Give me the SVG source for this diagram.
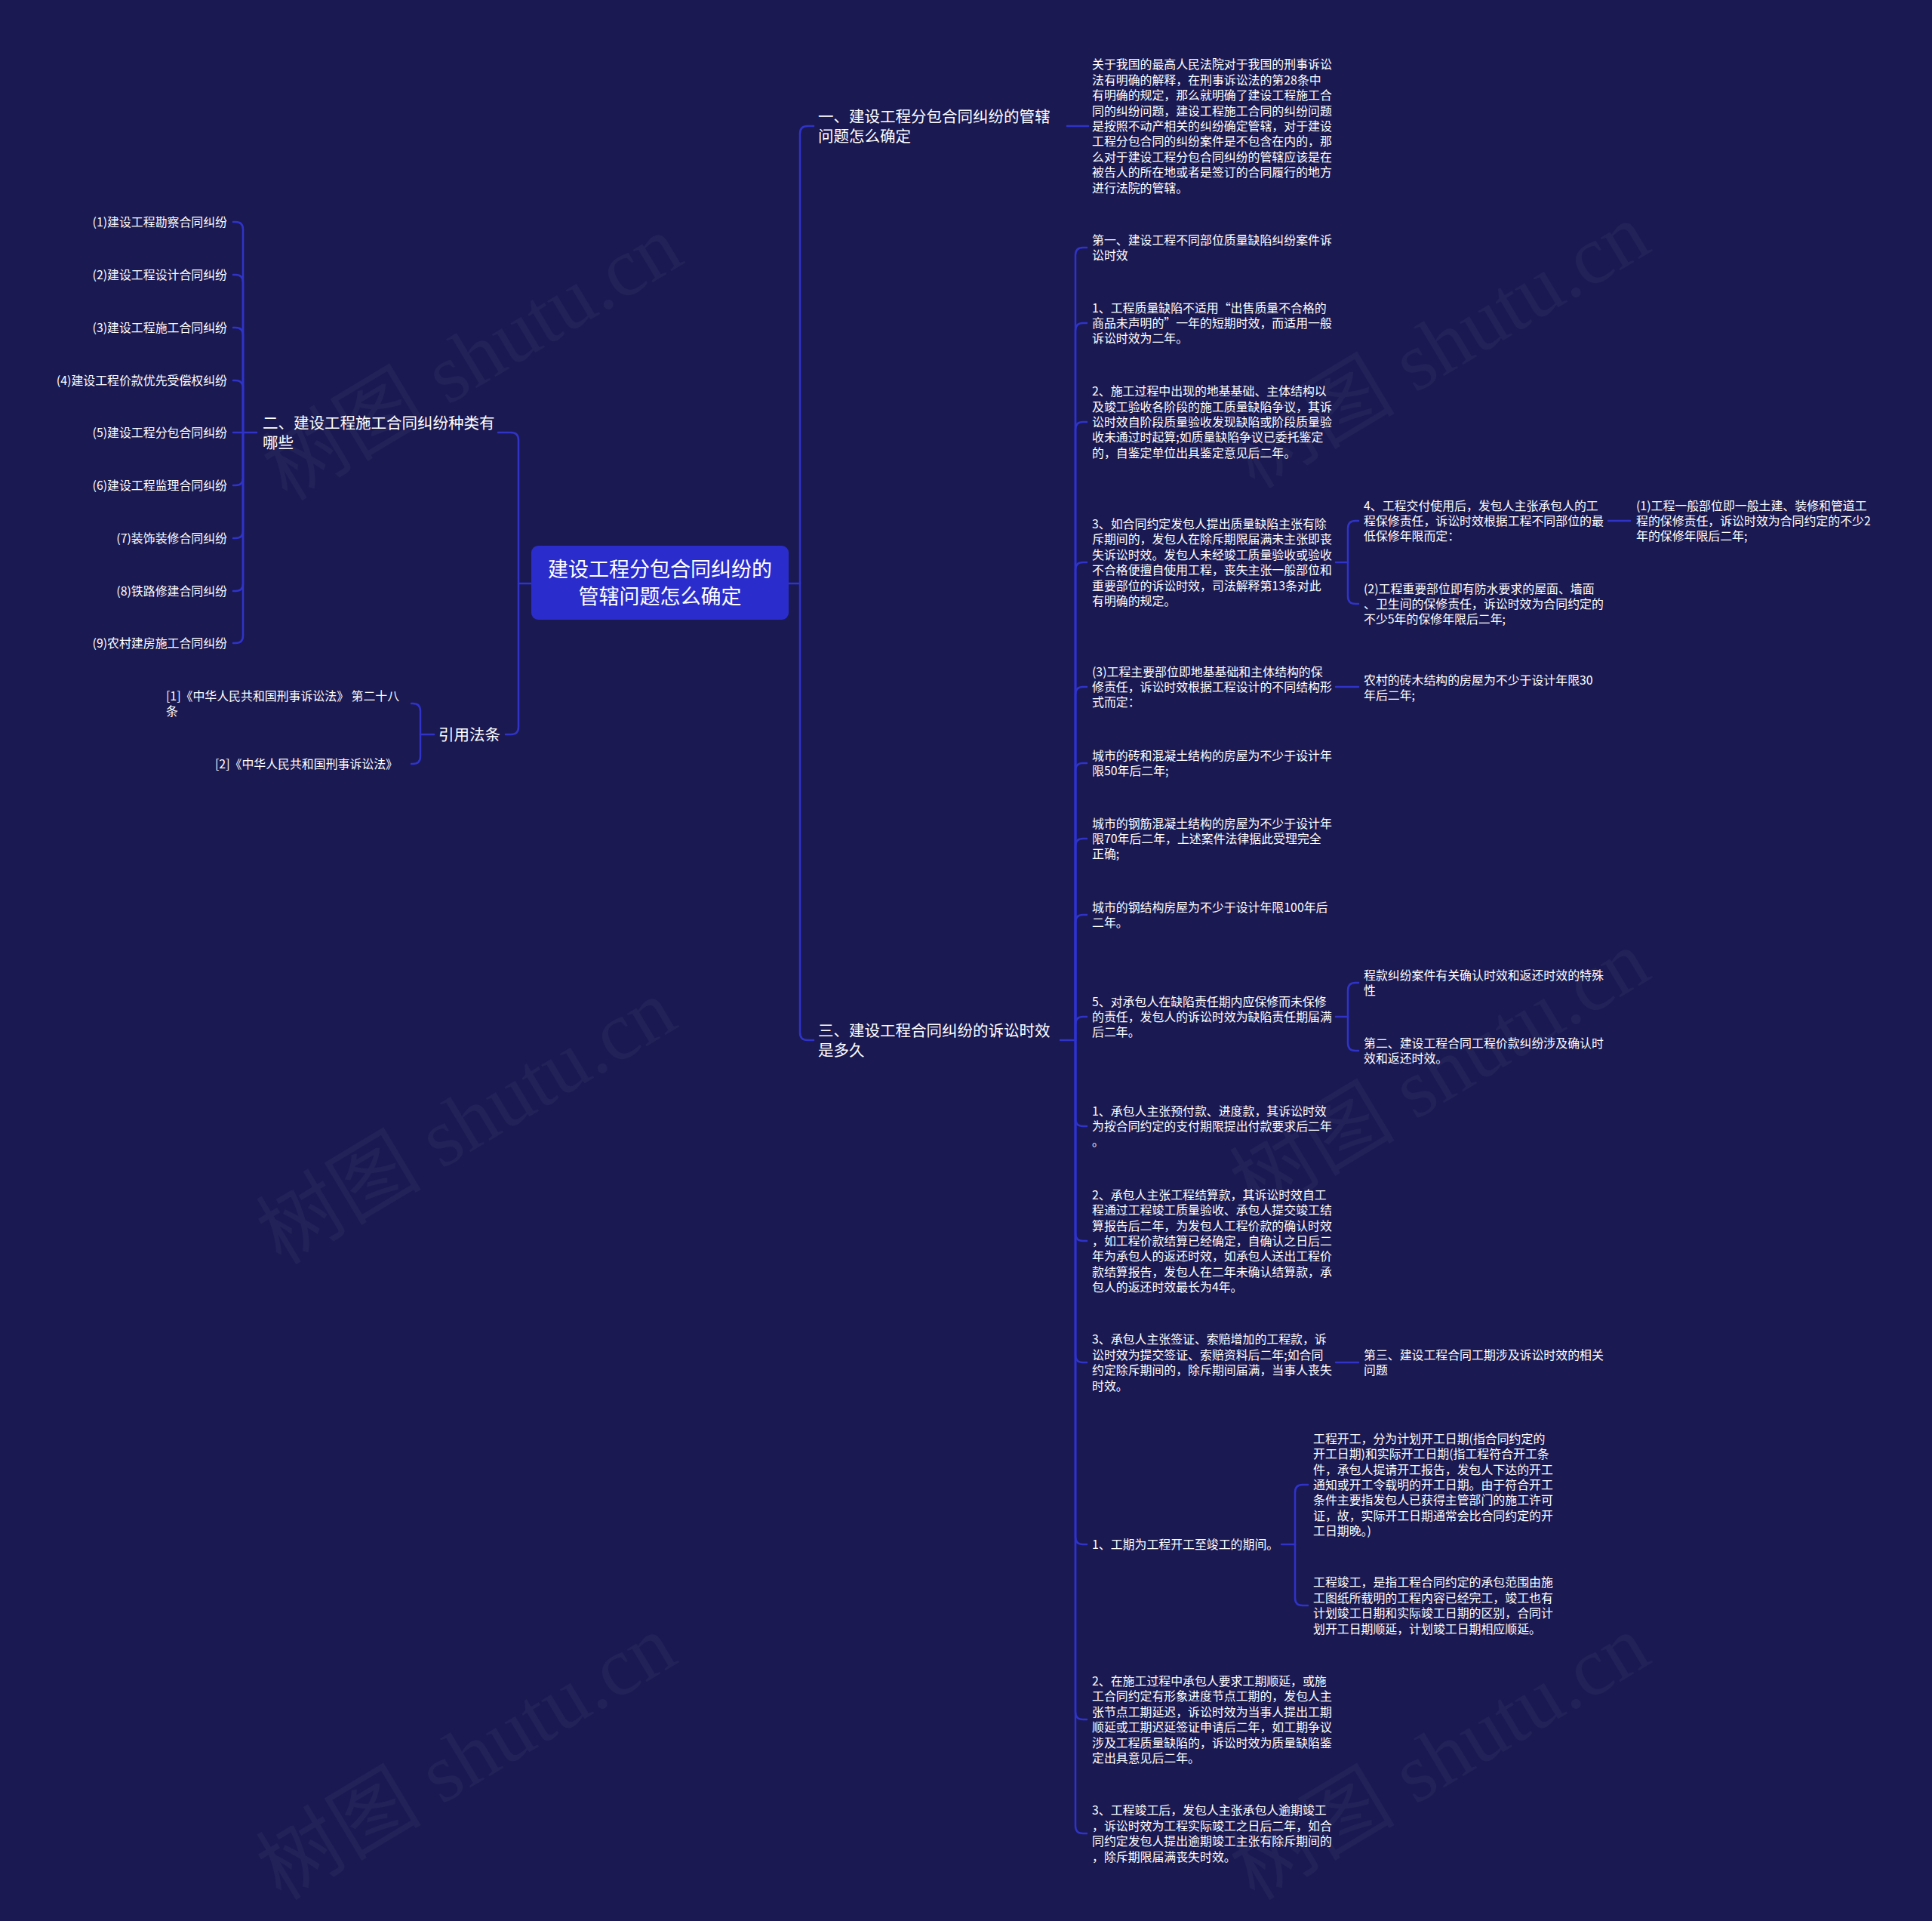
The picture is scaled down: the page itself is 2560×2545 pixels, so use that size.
<svg xmlns="http://www.w3.org/2000/svg" width="2560" height="2545" viewBox="0 0 2560 2545">
<style>
.bg{fill:#1a1952}
.ln{fill:none;stroke:#2f33c8;stroke-width:2.5;stroke-linecap:round}
text{font-family:"Noto Sans CJK SC","Noto Sans",sans-serif;fill:#ffffff}
.s{font-size:15.9px}
.l{font-size:15.9px}
.r{font-size:15.9px}
.b{font-size:20.5px}
.root{font-size:27px}
.wm{font-family:"Liberation Serif","Noto Sans CJK SC",serif;font-size:110px;fill:#ffffff;fill-opacity:0.035}
</style>
<rect class="bg" x="0" y="0" width="2560" height="2545"/>
<g id="watermarks">
<text class="wm" transform="translate(645,506) rotate(-31)" text-anchor="middle">树图 shutu.cn</text>
<text class="wm" transform="translate(1927,490) rotate(-31)" text-anchor="middle">树图 shutu.cn</text>
<text class="wm" transform="translate(637,1518) rotate(-31)" text-anchor="middle">树图 shutu.cn</text>
<text class="wm" transform="translate(1927,1453) rotate(-31)" text-anchor="middle">树图 shutu.cn</text>
<text class="wm" transform="translate(637,2360) rotate(-31)" text-anchor="middle">树图 shutu.cn</text>
<text class="wm" transform="translate(1927,2360) rotate(-31)" text-anchor="middle">树图 shutu.cn</text>
</g>
<g id="connectors">
<path class="ln" d="M1045,773 H1060"/>
<path class="ln" d="M1060,773 V177 Q1060,167 1070,167 H1078"/>
<path class="ln" d="M1060,773 V1368 Q1060,1378 1070,1378 H1078"/>
<path class="ln" d="M1414,167 H1442"/>
<path class="ln" d="M1405,1378 H1425"/>
<path class="ln" d="M1425,1378 V338 Q1425,328 1435,328 H1440"/>
<path class="ln" d="M1425,1378 V438 Q1425,428 1435,428 H1440"/>
<path class="ln" d="M1425,1378 V569 Q1425,559 1435,559 H1440"/>
<path class="ln" d="M1425,1378 V755 Q1425,745 1435,745 H1440"/>
<path class="ln" d="M1425,1378 V920 Q1425,910 1435,910 H1440"/>
<path class="ln" d="M1425,1378 V1021 Q1425,1011 1435,1011 H1440"/>
<path class="ln" d="M1425,1378 V1121 Q1425,1111 1435,1111 H1440"/>
<path class="ln" d="M1425,1378 V1222 Q1425,1212 1435,1212 H1440"/>
<path class="ln" d="M1425,1378 V1357 Q1425,1347 1435,1347 H1440"/>
<path class="ln" d="M1425,1378 V1482 Q1425,1492 1435,1492 H1440"/>
<path class="ln" d="M1425,1378 V1634 Q1425,1644 1435,1644 H1440"/>
<path class="ln" d="M1425,1378 V1795 Q1425,1805 1435,1805 H1440"/>
<path class="ln" d="M1425,1378 V2036 Q1425,2046 1435,2046 H1440"/>
<path class="ln" d="M1425,1378 V2268 Q1425,2278 1435,2278 H1440"/>
<path class="ln" d="M1425,1378 V2419 Q1425,2429 1435,2429 H1440"/>
<path class="ln" d="M1770,745 H1786"/>
<path class="ln" d="M1786,745 V700 Q1786,690 1796,690 H1800"/>
<path class="ln" d="M1786,745 V790 Q1786,800 1796,800 H1800"/>
<path class="ln" d="M2131,690 H2160"/>
<path class="ln" d="M1770,910 H1800"/>
<path class="ln" d="M1770,1347 H1786"/>
<path class="ln" d="M1786,1347 V1312 Q1786,1302 1796,1302 H1800"/>
<path class="ln" d="M1786,1347 V1382 Q1786,1392 1796,1392 H1800"/>
<path class="ln" d="M1770,1805 H1800"/>
<path class="ln" d="M1698,2046 H1716"/>
<path class="ln" d="M1716,2046 V1977 Q1716,1967 1726,1967 H1733"/>
<path class="ln" d="M1716,2046 V2117 Q1716,2127 1726,2127 H1733"/>
<path class="ln" d="M704,773 H687"/>
<path class="ln" d="M687,773 V583 Q687,573 677,573 H660"/>
<path class="ln" d="M687,773 V963 Q687,973 677,973 H670"/>
<path class="ln" d="M340,573 H322"/>
<path class="ln" d="M322,573 V304 Q322,294 312,294 H309"/>
<path class="ln" d="M322,573 V374 Q322,364 312,364 H309"/>
<path class="ln" d="M322,573 V444 Q322,434 312,434 H309"/>
<path class="ln" d="M322,573 V514 Q322,504 312,504 H309"/>
<path class="ln" d="M322,573 H309"/>
<path class="ln" d="M322,573 V633 Q322,643 312,643 H309"/>
<path class="ln" d="M322,573 V703 Q322,713 312,713 H309"/>
<path class="ln" d="M322,573 V773 Q322,783 312,783 H309"/>
<path class="ln" d="M322,573 V842 Q322,852 312,852 H309"/>
<path class="ln" d="M575,973 H557"/>
<path class="ln" d="M557,973 V942 Q557,932 547,932 H545"/>
<path class="ln" d="M557,973 V1002 Q557,1012 547,1012 H545"/>
</g>
<g id="root">
<rect x="704" y="723" width="341" height="98" rx="9" fill="#2a2dcc"/>
<text class="root" x="874.5" y="764" text-anchor="middle">建设工程分包合同纠纷的</text>
<text class="root" x="874.5" y="800" text-anchor="middle">管辖问题怎么确定</text>
</g>
<g id="b1">
<text class="b" x="1084" y="161.7">一、建设工程分包合同纠纷的管辖</text>
<text class="b" x="1084" y="187.7">问题怎么确定</text>
</g>
<g id="b1-1">
<text class="s" x="1447" y="91.4"><tspan x="1447" dy="0">关于我国的最高人民法院对于我国的刑事诉讼</tspan><tspan x="1447" dy="20.4">法有明确的解释，在刑事诉讼法的第28条中</tspan><tspan x="1447" dy="20.4">有明确的规定，那么就明确了建设工程施工合</tspan><tspan x="1447" dy="20.4">同的纠纷问题，建设工程施工合同的纠纷问题</tspan><tspan x="1447" dy="20.4">是按照不动产相关的纠纷确定管辖，对于建设</tspan><tspan x="1447" dy="20.4">工程分包合同的纠纷案件是不包含在内的，那</tspan><tspan x="1447" dy="20.4">么对于建设工程分包合同纠纷的管辖应该是在</tspan><tspan x="1447" dy="20.4">被告人的所在地或者是签订的合同履行的地方</tspan><tspan x="1447" dy="20.4">进行法院的管辖。</tspan></text>
</g>
<g id="b2">
<text class="b" x="348" y="567.7">二、建设工程施工合同纠纷种类有</text>
<text class="b" x="348" y="593.7">哪些</text>
</g>
<g id="b2-items">
<text class="l" x="301" y="299.5" text-anchor="end">(1)建设工程勘察合同纠纷</text>
<text class="l" x="301" y="369.5" text-anchor="end">(2)建设工程设计合同纠纷</text>
<text class="l" x="301" y="439.5" text-anchor="end">(3)建设工程施工合同纠纷</text>
<text class="l" x="301" y="509.5" text-anchor="end">(4)建设工程价款优先受偿权纠纷</text>
<text class="l" x="301" y="578.5" text-anchor="end">(5)建设工程分包合同纠纷</text>
<text class="l" x="301" y="648.5" text-anchor="end">(6)建设工程监理合同纠纷</text>
<text class="l" x="301" y="718.5" text-anchor="end">(7)装饰装修合同纠纷</text>
<text class="l" x="301" y="788.5" text-anchor="end">(8)铁路修建合同纠纷</text>
<text class="l" x="301" y="857.5" text-anchor="end">(9)农村建房施工合同纠纷</text>
</g>
<g id="refs">
<text class="b" x="581" y="980.7">引用法条</text>
<text class="r" x="220" y="928"><tspan x="220" dy="0">[1]《中华人民共和国刑事诉讼法》 第二十八</tspan><tspan x="220" dy="20">条</tspan></text>
<text class="r" x="527" y="1018" text-anchor="end">[2]《中华人民共和国刑事诉讼法》</text>
</g>
<g id="b3">
<text class="b" x="1084" y="1372.7">三、建设工程合同纠纷的诉讼时效</text>
<text class="b" x="1084" y="1398.7">是多久</text>
</g>
<g id="b3-c1"><text class="s" x="1447" y="323.8"><tspan x="1447" dy="0">第一、建设工程不同部位质量缺陷纠纷案件诉</tspan><tspan x="1447" dy="20.4">讼时效</tspan></text></g>
<g id="b3-c2"><text class="s" x="1447" y="413.6"><tspan x="1447" dy="0">1、工程质量缺陷不适用“出售质量不合格的</tspan><tspan x="1447" dy="20.4">商品未声明的”一年的短期时效，而适用一般</tspan><tspan x="1447" dy="20.4">诉讼时效为二年。</tspan></text></g>
<g id="b3-c3"><text class="s" x="1447" y="524.2"><tspan x="1447" dy="0">2、施工过程中出现的地基基础、主体结构以</tspan><tspan x="1447" dy="20.4">及竣工验收各阶段的施工质量缺陷争议，其诉</tspan><tspan x="1447" dy="20.4">讼时效自阶段质量验收发现缺陷或阶段质量验</tspan><tspan x="1447" dy="20.4">收未通过时起算;如质量缺陷争议已委托鉴定</tspan><tspan x="1447" dy="20.4">的，自鉴定单位出具鉴定意见后二年。</tspan></text></g>
<g id="b3-c4"><text class="s" x="1447" y="700"><tspan x="1447" dy="0">3、如合同约定发包人提出质量缺陷主张有除</tspan><tspan x="1447" dy="20.4">斥期间的，发包人在除斥期限届满未主张即丧</tspan><tspan x="1447" dy="20.4">失诉讼时效。发包人未经竣工质量验收或验收</tspan><tspan x="1447" dy="20.4">不合格便擅自使用工程，丧失主张一般部位和</tspan><tspan x="1447" dy="20.4">重要部位的诉讼时效，司法解释第13条对此</tspan><tspan x="1447" dy="20.4">有明确的规定。</tspan></text></g>
<g id="b3-c4-1"><text class="s" x="1807" y="675.6"><tspan x="1807" dy="0">4、工程交付使用后，发包人主张承包人的工</tspan><tspan x="1807" dy="20.4">程保修责任，诉讼时效根据工程不同部位的最</tspan><tspan x="1807" dy="20.4">低保修年限而定：</tspan></text></g>
<g id="b3-c4-1-1"><text class="s" x="2168" y="675.6"><tspan x="2168" dy="0">(1)工程一般部位即一般土建、装修和管道工</tspan><tspan x="2168" dy="20.4">程的保修责任，诉讼时效为合同约定的不少2</tspan><tspan x="2168" dy="20.4">年的保修年限后二年;</tspan></text></g>
<g id="b3-c4-2"><text class="s" x="1807" y="785.6"><tspan x="1807" dy="0">(2)工程重要部位即有防水要求的屋面、墙面</tspan><tspan x="1807" dy="20.4">、卫生间的保修责任，诉讼时效为合同约定的</tspan><tspan x="1807" dy="20.4">不少5年的保修年限后二年;</tspan></text></g>
<g id="b3-c5"><text class="s" x="1447" y="895.6"><tspan x="1447" dy="0">(3)工程主要部位即地基基础和主体结构的保</tspan><tspan x="1447" dy="20.4">修责任，诉讼时效根据工程设计的不同结构形</tspan><tspan x="1447" dy="20.4">式而定：</tspan></text></g>
<g id="b3-c5-1"><text class="s" x="1807" y="906.8"><tspan x="1807" dy="0">农村的砖木结构的房屋为不少于设计年限30</tspan><tspan x="1807" dy="20.4">年后二年;</tspan></text></g>
<g id="b3-c6"><text class="s" x="1447" y="1006.8"><tspan x="1447" dy="0">城市的砖和混凝土结构的房屋为不少于设计年</tspan><tspan x="1447" dy="20.4">限50年后二年;</tspan></text></g>
<g id="b3-c7"><text class="s" x="1447" y="1096.6"><tspan x="1447" dy="0">城市的钢筋混凝土结构的房屋为不少于设计年</tspan><tspan x="1447" dy="20.4">限70年后二年，上述案件法律据此受理完全</tspan><tspan x="1447" dy="20.4">正确;</tspan></text></g>
<g id="b3-c8"><text class="s" x="1447" y="1207.8"><tspan x="1447" dy="0">城市的钢结构房屋为不少于设计年限100年后</tspan><tspan x="1447" dy="20.4">二年。</tspan></text></g>
<g id="b3-c9"><text class="s" x="1447" y="1332.6"><tspan x="1447" dy="0">5、对承包人在缺陷责任期内应保修而未保修</tspan><tspan x="1447" dy="20.4">的责任，发包人的诉讼时效为缺陷责任期届满</tspan><tspan x="1447" dy="20.4">后二年。</tspan></text></g>
<g id="b3-c9-1"><text class="s" x="1807" y="1297.8"><tspan x="1807" dy="0">程款纠纷案件有关确认时效和返还时效的特殊</tspan><tspan x="1807" dy="20.4">性</tspan></text></g>
<g id="b3-c9-2"><text class="s" x="1807" y="1387.8"><tspan x="1807" dy="0">第二、建设工程合同工程价款纠纷涉及确认时</tspan><tspan x="1807" dy="20.4">效和返还时效。</tspan></text></g>
<g id="b3-c10"><text class="s" x="1447" y="1477.6"><tspan x="1447" dy="0">1、承包人主张预付款、进度款，其诉讼时效</tspan><tspan x="1447" dy="20.4">为按合同约定的支付期限提出付款要求后二年</tspan><tspan x="1447" dy="20.4">。</tspan></text></g>
<g id="b3-c11"><text class="s" x="1447" y="1588.8"><tspan x="1447" dy="0">2、承包人主张工程结算款，其诉讼时效自工</tspan><tspan x="1447" dy="20.4">程通过工程竣工质量验收、承包人提交竣工结</tspan><tspan x="1447" dy="20.4">算报告后二年，为发包人工程价款的确认时效</tspan><tspan x="1447" dy="20.4">，如工程价款结算已经确定，自确认之日后二</tspan><tspan x="1447" dy="20.4">年为承包人的返还时效，如承包人送出工程价</tspan><tspan x="1447" dy="20.4">款结算报告，发包人在二年未确认结算款，承</tspan><tspan x="1447" dy="20.4">包人的返还时效最长为4年。</tspan></text></g>
<g id="b3-c12"><text class="s" x="1447" y="1780.4"><tspan x="1447" dy="0">3、承包人主张签证、索赔增加的工程款，诉</tspan><tspan x="1447" dy="20.4">讼时效为提交签证、索赔资料后二年;如合同</tspan><tspan x="1447" dy="20.4">约定除斥期间的，除斥期间届满，当事人丧失</tspan><tspan x="1447" dy="20.4">时效。</tspan></text></g>
<g id="b3-c12-1"><text class="s" x="1807" y="1800.8"><tspan x="1807" dy="0">第三、建设工程合同工期涉及诉讼时效的相关</tspan><tspan x="1807" dy="20.4">问题</tspan></text></g>
<g id="b3-c13"><text class="s" x="1447" y="2052">1、工期为工程开工至竣工的期间。</text></g>
<g id="b3-c13-1"><text class="s" x="1740" y="1911.8"><tspan x="1740" dy="0">工程开工，分为计划开工日期(指合同约定的</tspan><tspan x="1740" dy="20.4">开工日期)和实际开工日期(指工程符合开工条</tspan><tspan x="1740" dy="20.4">件，承包人提请开工报告，发包人下达的开工</tspan><tspan x="1740" dy="20.4">通知或开工令载明的开工日期。由于符合开工</tspan><tspan x="1740" dy="20.4">条件主要指发包人已获得主管部门的施工许可</tspan><tspan x="1740" dy="20.4">证，故，实际开工日期通常会比合同约定的开</tspan><tspan x="1740" dy="20.4">工日期晚。)</tspan></text></g>
<g id="b3-c13-2"><text class="s" x="1740" y="2102.4"><tspan x="1740" dy="0">工程竣工，是指工程合同约定的承包范围由施</tspan><tspan x="1740" dy="20.4">工图纸所载明的工程内容已经完工，竣工也有</tspan><tspan x="1740" dy="20.4">计划竣工日期和实际竣工日期的区别，合同计</tspan><tspan x="1740" dy="20.4">划开工日期顺延，计划竣工日期相应顺延。</tspan></text></g>
<g id="b3-c14"><text class="s" x="1447" y="2233"><tspan x="1447" dy="0">2、在施工过程中承包人要求工期顺延，或施</tspan><tspan x="1447" dy="20.4">工合同约定有形象进度节点工期的，发包人主</tspan><tspan x="1447" dy="20.4">张节点工期延迟，诉讼时效为当事人提出工期</tspan><tspan x="1447" dy="20.4">顺延或工期迟延签证申请后二年，如工期争议</tspan><tspan x="1447" dy="20.4">涉及工程质量缺陷的，诉讼时效为质量缺陷鉴</tspan><tspan x="1447" dy="20.4">定出具意见后二年。</tspan></text></g>
<g id="b3-c15"><text class="s" x="1447" y="2404.4"><tspan x="1447" dy="0">3、工程竣工后，发包人主张承包人逾期竣工</tspan><tspan x="1447" dy="20.4">，诉讼时效为工程实际竣工之日后二年，如合</tspan><tspan x="1447" dy="20.4">同约定发包人提出逾期竣工主张有除斥期间的</tspan><tspan x="1447" dy="20.4">，除斥期限届满丧失时效。</tspan></text></g>
</svg>
